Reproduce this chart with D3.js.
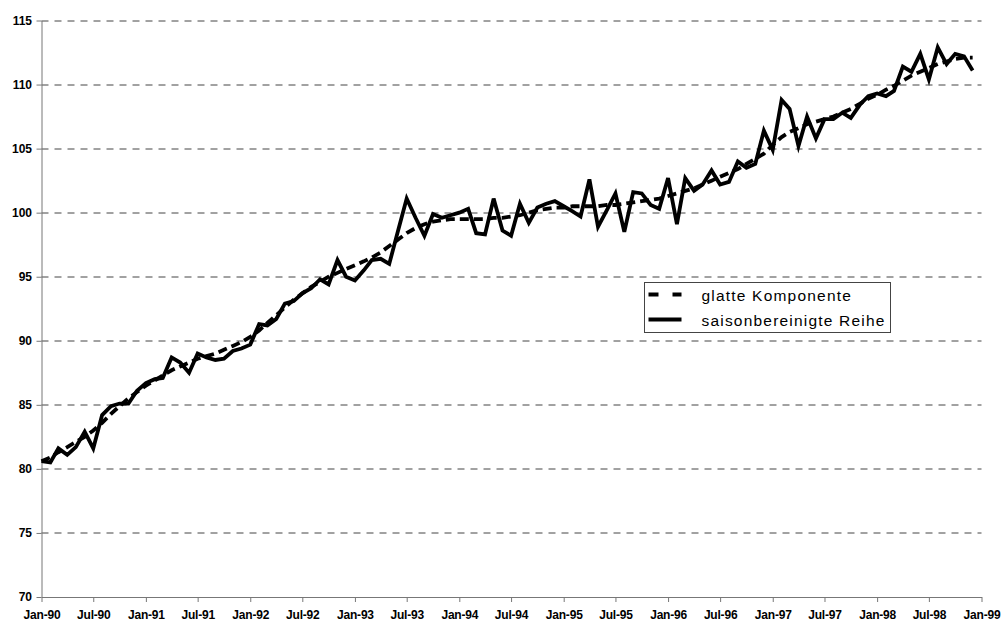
<!DOCTYPE html>
<html>
<head>
<meta charset="utf-8">
<script src="https://cdnjs.cloudflare.com/ajax/libs/d3/7.8.5/d3.min.js"></script>
<style>
    body { margin: 0; background: #fff; }
    #chart-area text { font-family: Arial, "Liberation Sans", sans-serif; }
</style>
</head>
<body>
<div id="chart-area"></div>
<script>

// first month of the series, one value per month up to Dec-98
const startMonth = new Date(1990, 0, 1);

const xTickLabels = ["Jan-90", "Jul-90", "Jan-91", "Jul-91", "Jan-92", "Jul-92", "Jan-93", "Jul-93",
    "Jan-94", "Jul-94", "Jan-95", "Jul-95", "Jan-96", "Jul-96", "Jan-97", "Jul-97", "Jan-98", "Jul-98", "Jan-99"];

const yTicks = [70, 75, 80, 85, 90, 95, 100, 105, 110, 115];

const seriesNames = ["glatte Komponente", "saisonbereinigte Reihe"];

// glatte Komponente (trend)
const smoothValues = [
    80.6, 80.9, 81.3, 81.7, 82.1, 82.5, 83.0, 83.6, 84.3, 84.9, 85.5, 86.0,      // 1990
    86.5, 86.9, 87.3, 87.7, 88.0, 88.3, 88.6, 88.8, 89.0, 89.3, 89.6, 89.9,      // 1991
    90.3, 90.8, 91.4, 92.0, 92.6, 93.2, 93.7, 94.2, 94.6, 95.0, 95.3, 95.6,      // 1992
    95.9, 96.2, 96.5, 96.9, 97.4, 97.9, 98.4, 98.8, 99.1, 99.3, 99.4, 99.5,      // 1993
    99.5, 99.5, 99.5, 99.5, 99.6, 99.6, 99.7, 99.8, 100.0, 100.2, 100.3, 100.4,  // 1994
    100.4, 100.5, 100.5, 100.5, 100.5, 100.6, 100.6, 100.7, 100.8, 100.9, 101.0, 101.1, // 1995
    101.3, 101.5, 101.7, 101.9, 102.2, 102.5, 102.8, 103.1, 103.4, 103.8, 104.2, 104.6, // 1996
    105.3, 105.9, 106.3, 106.6, 106.9, 107.1, 107.3, 107.5, 107.8, 108.1, 108.5, 108.9, // 1997
    109.2, 109.6, 109.9, 110.3, 110.7, 111.0, 111.3, 111.6, 111.8, 112.0, 112.1, 112.1  // 1998
];

// saisonbereinigte Reihe
const adjustedValues = [
    80.6, 80.5, 81.6, 81.1, 81.7, 82.9, 81.6, 84.2, 84.9, 85.1, 85.1, 86.1,      // 1990
    86.7, 87.0, 87.1, 88.7, 88.3, 87.5, 89.0, 88.7, 88.5, 88.6, 89.2, 89.4,      // 1991
    89.7, 91.3, 91.2, 91.7, 92.9, 93.1, 93.7, 94.1, 94.8, 94.4, 96.3, 95.0,      // 1992
    94.7, 95.5, 96.3, 96.4, 96.0, 98.6, 101.1, 99.6, 98.2, 99.9, 99.6, 99.8,     // 1993
    100.0, 100.3, 98.4, 98.3, 101.1, 98.6, 98.2, 100.7, 99.2, 100.4, 100.7, 100.9, // 1994
    100.5, 100.1, 99.7, 102.6, 98.9, 100.2, 101.5, 98.5, 101.6, 101.5, 100.6, 100.3, // 1995
    102.7, 99.1, 102.7, 101.7, 102.2, 103.3, 102.2, 102.4, 104.0, 103.5, 103.8, 106.4, // 1996
    104.9, 108.8, 108.1, 105.2, 107.5, 105.8, 107.3, 107.3, 107.8, 107.4, 108.4, 109.1, // 1997
    109.3, 109.1, 109.5, 111.4, 111.0, 112.4, 110.4, 112.9, 111.6, 112.4, 112.2, 111.1  // 1998
];


class TrendVis {

    constructor(parentElement) {
        this.parentElement = parentElement;
        this.initVis();
    }

    initVis() {
        let vis = this;

        vis.margin = {top: 20.5, right: 22.5, bottom: 24, left: 41.5};
        vis.width = 1004 - vis.margin.left - vis.margin.right;
        vis.height = 621 - vis.margin.top - vis.margin.bottom;

        vis.svg = d3.select("#" + vis.parentElement).append("svg")
            .attr("width", 1004)
            .attr("height", 621)
            .append("g")
            .attr("transform", `translate(${vis.margin.left}, ${vis.margin.top})`);

        vis.x = d3.scaleTime()
            .domain([startMonth, d3.timeMonth.offset(startMonth, 108)])
            .range([0, vis.width]);

        vis.y = d3.scaleLinear()
            .domain([70, 115])
            .range([vis.height, 0]);

        vis.wrangleData();
    }

    wrangleData() {
        let vis = this;

        vis.smooth = smoothValues.map((v, i) => ({date: d3.timeMonth.offset(startMonth, i), value: v}));
        vis.adjusted = adjustedValues.map((v, i) => ({date: d3.timeMonth.offset(startMonth, i), value: v}));
        vis.tickDates = xTickLabels.map((d, i) => d3.timeMonth.offset(startMonth, i * 6));

        vis.updateVis();
    }

    updateVis() {
        let vis = this;

        // dashed grid lines
        vis.svg.append("g")
            .selectAll("line")
            .data(yTicks.filter(d => d > 70))
            .enter()
            .append("line")
            .attr("x1", 0)
            .attr("x2", vis.width)
            .attr("y1", d => Math.round(vis.y(d)) + 0.5)
            .attr("y2", d => Math.round(vis.y(d)) + 0.5)
            .attr("stroke", "#444")
            .attr("stroke-width", 1)
            .attr("stroke-dasharray", "7,6");

        // axes
        let yAxis = vis.svg.append("g")
            .call(d3.axisLeft(vis.y).tickValues(yTicks).tickSize(5).tickPadding(4.5).tickSizeOuter(0));

        let xAxis = vis.svg.append("g")
            .attr("transform", `translate(0, ${vis.height})`)
            .call(d3.axisBottom(vis.x)
                .tickValues(vis.tickDates)
                .tickFormat((d, i) => xTickLabels[i])
                .tickSize(5)
                .tickPadding(8)
                .tickSizeOuter(0));

        [yAxis, xAxis].forEach(ax => {
            ax.attr("font-family", null).attr("font-size", null);
            ax.select(".domain").attr("stroke", "#777");
            ax.selectAll(".tick line").attr("stroke", "#777");
            ax.selectAll(".tick text")
                .attr("fill", "#000")
                .attr("font-size", "12px")
                .attr("font-weight", "bold");
        });
        xAxis.selectAll(".tick text").attr("letter-spacing", "-0.2px");

        let line = d3.line()
            .x(d => vis.x(d.date))
            .y(d => vis.y(d.value));

        // solid: seasonally adjusted series
        vis.svg.append("path")
            .datum(vis.adjusted)
            .attr("fill", "none")
            .attr("stroke", "#000")
            .attr("stroke-width", 3.8)
            .attr("stroke-linejoin", "miter")
            .attr("d", line);

        // dashed: smooth component
        vis.svg.append("path")
            .datum(vis.smooth)
            .attr("fill", "none")
            .attr("stroke", "#000")
            .attr("stroke-width", 3.8)
            .attr("stroke-dasharray", "9,5")
            .attr("d", line);

        // Legend
        let legend = d3.select("#" + vis.parentElement).select("svg")
            .append("g")
            .attr("class", "legend")
            .attr("transform", "translate(644.5, 282.5)");

        legend.append("rect")
            .attr("width", 246)
            .attr("height", 50)
            .attr("fill", "#fff")
            .attr("stroke", "#444")
            .attr("stroke-width", 1);

        let rows = legend.selectAll(".legend-row")
            .data(seriesNames)
            .enter()
            .append("g")
            .attr("class", "legend-row")
            .attr("transform", (d, i) => `translate(0, ${12 + i * 25})`);

        rows.append("line")
            .attr("x1", 4)
            .attr("x2", 37)
            .attr("stroke", "#000")
            .attr("stroke-width", 4)
            .attr("stroke-dasharray", (d, i) => i === 0 ? "10,14" : null);

        rows.append("text")
            .attr("x", 57)
            .attr("y", 6)
            .attr("font-size", "15.5px")
            .attr("letter-spacing", "1.2px")
            .attr("fill", "#000")
            .text(d => d);
    }
}

new TrendVis("chart-area");

</script>
</body>
</html>
